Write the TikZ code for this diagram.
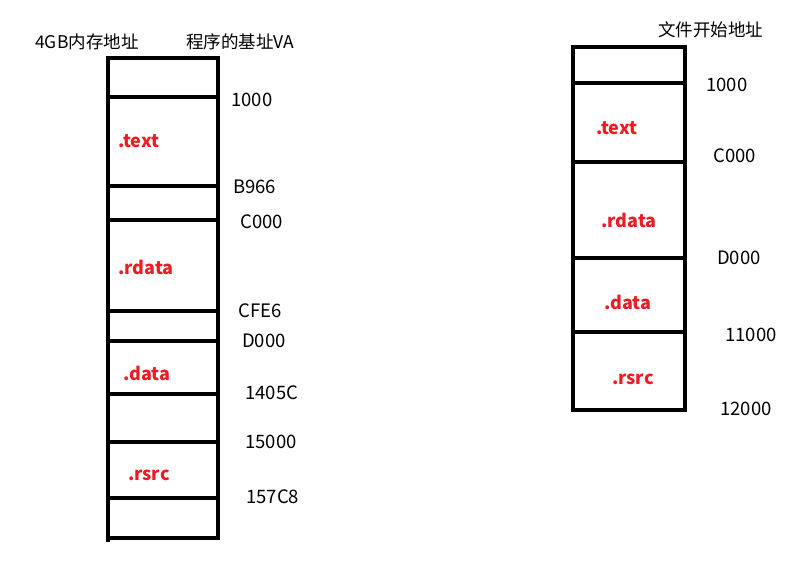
\documentclass[tikz,border=0pt]{standalone}
\usepackage{fontspec}
\setmainfont{Noto Sans CJK SC}
\definecolor{secred}{RGB}{237,28,36}
\begin{document}
\begin{tikzpicture}
[x=1pt,y=-1pt,line width=4.5pt,%
  every node/.style={inner sep=0pt,anchor=west,font=\fontsize{18.5}{20}\selectfont},%
  head/.style={font=\fontsize{17.5}{19}\selectfont},%
  sect/.style={text=secred,font=\fontsize{18}{20}\selectfont\bfseries}]
\useasboundingbox (0,0) rectangle (808,578);
% memory column
\draw (108,58) -- (108,542);
\draw (218,58) -- (218,538);
\foreach \y in {58,97,186,220,311,341,394,442,498,538}
  \draw (106,\y) -- (220,\y);
% file column
\draw (573,47) -- (573,410);
\draw (685,47) -- (685,410);
\foreach \y in {47,83,162,258,332,410}
  \draw (571,\y) -- (687,\y);
% headings
\node[head] (memhead) at (33,42) {4GB内存地址};
\node[head] (vahead) at (184,42) {程序的基址VA};
\node[head] (filehead) at (656,30) {文件开始地址};
% virtual addresses
\foreach \x/\y/\t in {229/100/1000,231/187/B966,238/222/C000,236/311/CFE6,
    240/341/D000,243/393/1405C,243/442/15000,244/497/157C8}
  \node (va\t) at (\x,\y) {\t};
% file offsets
\foreach \x/\y/\t in {704/85/1000,711/156/C000,715/258/D000,
    723/335/11000,718/409/12000}
  \node (fo\t) at (\x,\y) {\t};
% sections
\node[sect] (vatext) at (116,141) {.text};
\node[sect] (vardata) at (116,267) {.rdata};
\node[sect] (vadata) at (121,373) {.data};
\node[sect] (varsrc) at (126,475) {.rsrc};
\node[sect] (fotext) at (594,128) {.text};
\node[sect] (fordata) at (599,220) {.rdata};
\node[sect] (fodata) at (602,302) {.data};
\node[sect] (forsrc) at (610,379) {.rsrc};
\end{tikzpicture}
\end{document}
